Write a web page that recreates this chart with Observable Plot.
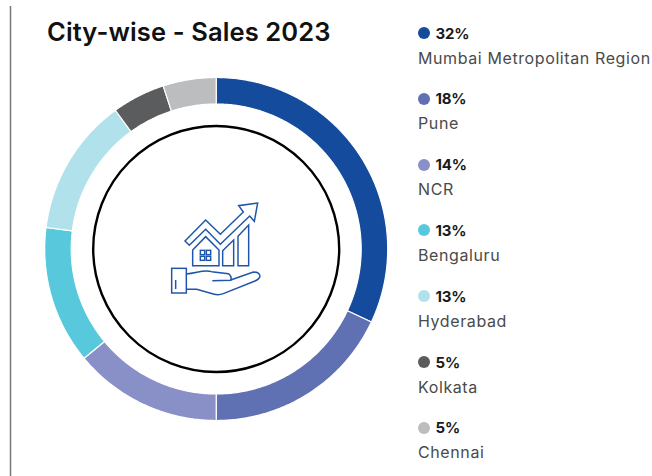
<!DOCTYPE html>
<html>
<head>
<meta charset="utf-8">
<script src="https://cdn.jsdelivr.net/npm/d3@7"></script>
<script src="https://cdn.jsdelivr.net/npm/@observablehq/plot@0.6"></script>
<style>
html,body{margin:0;padding:0;background:#fff;}
#wrap{position:relative;width:652px;height:476px;overflow:hidden;font-family:Inter,sans-serif;}
#wrap>svg.plot{position:absolute;left:0;top:0;}
#title{position:absolute;left:47px;top:16px;font-size:25.5px;font-weight:600;color:#111;white-space:nowrap;letter-spacing:.12px;}
.pct{position:absolute;left:435.5px;font-size:15px;font-weight:700;color:#1a1a1a;white-space:nowrap;line-height:20px;letter-spacing:-.2px;}
.name{position:absolute;left:418px;font-size:16px;color:#4a4a4a;white-space:nowrap;line-height:20px;letter-spacing:.6px;}
.sw{position:absolute;left:418px;width:12px;height:12px;border-radius:50%;}
#icon{position:absolute;left:140px;top:180px;}
</style>
</head>
<body>
<div id="wrap"></div>
<script>
const title = "City-wise - Sales 2023";
const cities = ["Mumbai Metropolitan Region", "Pune", "NCR", "Bengaluru", "Hyderabad", "Kolkata", "Chennai"];
const shares = [32, 18, 14, 13, 13, 5, 5];
const colors = ["#154b9c", "#5f70b3", "#8990c7", "#58c9dd", "#b1e1eb", "#5b5c5e", "#bcbdbf"];

const outerR = 171.5, innerR = 145, ringR = 123;
const cx = 215.7, cy = 248.5;
const W = 652, H = 476;

// Ring slices as closed outlines in chart units, built from the shares
const total = d3.sum(shares);
const outline = [];
let acc = 0;
cities.forEach((city, i) => {
  const a0 = acc / total * 2 * Math.PI;
  acc += shares[i];
  const a1 = acc / total * 2 * Math.PI;
  const n = Math.max(2, Math.ceil((a1 - a0) / 0.01));
  const steps = d3.range(n + 1).map(k => a0 + (a1 - a0) * k / n);
  for (const a of steps) outline.push({city, x: outerR * Math.sin(a), y: -outerR * Math.cos(a)});
  for (const a of steps.slice().reverse()) outline.push({city, x: innerR * Math.sin(a), y: -innerR * Math.cos(a)});
});

const chart = Plot.plot({
  width: W, height: H, margin: 0,
  style: {background: "transparent"},
  x: {domain: [-cx, W - cx], range: [0, W], axis: null},
  y: {domain: [-cy, H - cy], range: [0, H], axis: null},
  color: {domain: cities, range: colors},
  marks: [
    Plot.line(outline, {x: "x", y: "y", z: "city", fill: "city", stroke: "#fff", strokeWidth: 1.2, curve: "linear-closed"}),
    Plot.dot([{x: 0, y: 0}], {x: "x", y: "y", r: ringR, stroke: "#000", strokeWidth: 2.4, fill: "none"}),
    Plot.ruleX([10 - cx], {y1: 6 - cy, y2: H - cy, stroke: "#7a7a7a", strokeWidth: 1.5})
  ]
});

const wrap = document.getElementById("wrap");
wrap.appendChild(chart);

const t = document.createElement("div");
t.id = "title"; t.textContent = title;
wrap.appendChild(t);

cities.forEach((city, i) => {
  const top = 33 + i * 65.8;
  const sw = document.createElement("div");
  sw.className = "sw"; sw.style.top = (top - 6) + "px"; sw.style.background = colors[i];
  const p = document.createElement("div");
  p.className = "pct"; p.style.top = (top - 9.5) + "px"; p.textContent = shares[i] + "%";
  const n = document.createElement("div");
  n.className = "name"; n.style.top = (top + 14.5) + "px"; n.textContent = city;
  wrap.append(sw, p, n);
});

const icon = document.createElement("div");
icon.id = "icon";
icon.innerHTML = `<svg width="150" height="130" viewBox="0 0 450 390" fill="none" stroke="#1f55a8" stroke-width="4.4" stroke-linejoin="miter">
<path d="M135 183L197 120L241 163L310 96L296 77L353 69L343 124L329 108L241 193L197 148L148 196Z"/>
<path d="M158 210L197 170L237 210V257H158Z"/>
<rect x="181" y="211" width="13" height="13"/><rect x="199" y="211" width="13" height="13"/>
<rect x="181" y="229" width="13" height="12"/><rect x="199" y="229" width="13" height="12"/>
<path d="M248 212L281 180V257H248Z"/>
<path d="M294 169L326 135V257H294Z"/>
<rect x="95" y="265" width="44" height="74"/>
<path d="M107 300V327"/>
<path d="M139 282C170 280 190 268 215 275L265 281Q277 290 272 301L217 302"/>
<path d="M272 300L340 276Q358 276 360 288Q358 298 345 303L250 341Q235 347 220 342L170 328L139 328"/>
</svg>`;
wrap.appendChild(icon);
</script>
</body>
</html>
